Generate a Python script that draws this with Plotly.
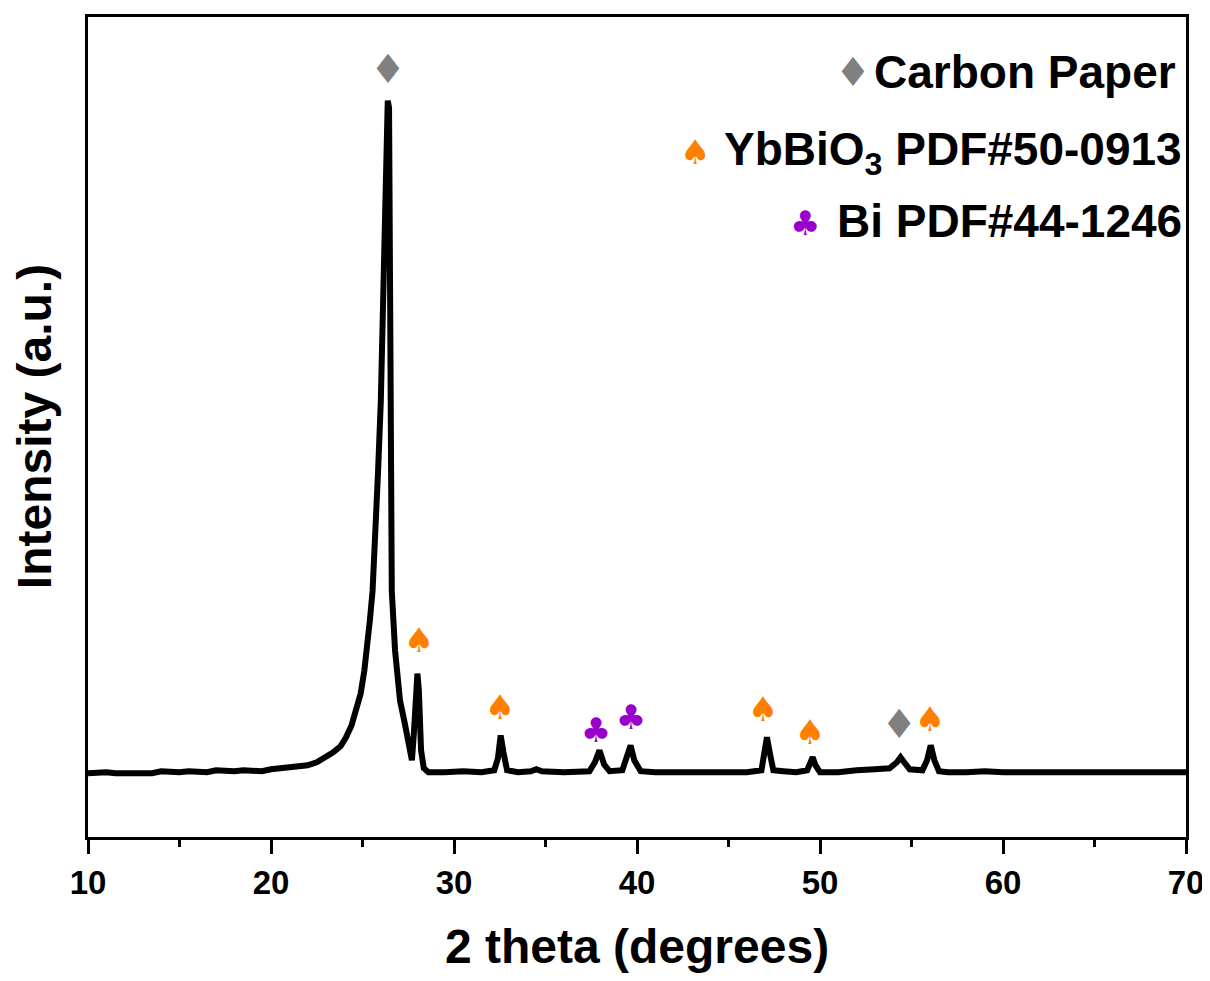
import plotly.graph_objects as go

# ---- XRD pattern (2theta, intensity a.u.) ----
two_theta = [10.0, 10.5, 11.0, 11.5, 12.0, 12.5, 13.0, 13.5, 14.0, 14.5, 15.0, 15.5, 16.0,
             16.5, 17.0, 17.5, 18.0, 18.5, 19.0, 19.5, 20.0, 20.5,
             21.0, 21.6, 22.0, 22.5, 23.0, 23.4, 23.8, 24.1, 24.4, 24.7, 24.9,
             25.1, 25.25, 25.4, 25.55, 25.7, 25.85, 26.0, 26.1, 26.2, 26.3, 26.38,
             26.45, 26.5, 26.55, 26.6, 26.78, 27.05, 27.3, 27.55, 27.7, 27.8, 27.92,
             28.0, 28.08, 28.2, 28.35, 28.6, 29.5, 30.5, 31.5, 32.2, 32.4, 32.55,
             32.7, 32.9, 33.5, 34.2, 34.5, 34.8, 36.0, 37.4, 37.7, 37.95, 38.2,
             38.5, 39.2, 39.45, 39.65, 39.85, 40.2, 41.0, 42.0, 43.0, 44.0, 45.0,
             46.0, 46.8, 46.95,
             47.1, 47.25, 47.45, 48.0, 48.7, 49.3, 49.5, 49.6, 49.75, 50.0, 51.0,
             51.7, 52.0, 53.0, 53.8, 54.2, 54.4, 54.6, 54.9, 55.6, 55.85, 56.05,
             56.25, 56.5, 57.0, 58.0, 59.0, 60.0, 61.0, 62.0, 63.5, 65.0, 66.5,
             68.0, 69.0, 70.0]
intensity = [64, 65, 65, 64, 64, 65, 65, 64, 66, 65, 65, 66, 66,
             65, 67, 66, 66, 67, 67, 66, 68, 69,
             70, 70, 72, 75, 80, 85, 91, 100, 112, 129, 144,
             167, 187, 217, 247, 297, 367, 437, 537, 637, 707, 739,
             732, 587, 387, 247, 187, 137, 115, 95, 77, 102, 147,
             164, 147, 87, 69, 65, 65, 66, 65, 67, 79, 102,
             85, 67, 65, 66, 68, 66, 65, 66, 75, 87, 73,
             66, 67, 79, 92, 77, 66, 65, 65, 66, 65, 65,
             65, 67, 82,
             100, 85, 67, 66, 65, 67, 77, 80, 72, 65, 65,
             67, 67, 68, 69, 75, 80, 75, 68, 67, 77, 92,
             77, 66, 65, 65, 66, 65, 65, 65, 66, 65, 65,
             65, 66, 65]

# ---- phase markers ----
carbon_x = [26.39, 54.32]
carbon_y = [767, 109]
ybbio3_x = [28.09, 32.51, 46.89, 49.45, 56.01]
ybbio3_y = [194, 127, 125, 102, 115]
bi_x = [37.76, 39.67]
bi_y = [104, 117]

legend_labels = ["Carbon Paper", "YbBiO<sub>3</sub> PDF#50-0913", "Bi PDF#44-1246"]
x_title = "2 theta (degrees)"
y_title = "Intensity (a.u.)"

GRAY = "#808080"
ORANGE = "#FF8000"
PURPLE = "#9900CC"
FONT = "Liberation Sans, Arial, sans-serif"
SYM_FONT = "DejaVu Sans"
DIA_SIZE = 40
SUIT_SIZE = 34

fig = go.Figure()
fig.add_trace(go.Scatter(x=two_theta, y=intensity, mode="lines",
                         line=dict(color="black", width=6), showlegend=False))
fig.add_trace(go.Scatter(x=carbon_x, y=carbon_y, mode="text", text=["♦"] * len(carbon_x),
                         textfont=dict(family=SYM_FONT, size=DIA_SIZE, color=GRAY), showlegend=False))
fig.add_trace(go.Scatter(x=ybbio3_x, y=ybbio3_y, mode="text", text=["♠"] * len(ybbio3_x),
                         textfont=dict(family=SYM_FONT, size=SUIT_SIZE, color=ORANGE), showlegend=False))
fig.add_trace(go.Scatter(x=bi_x, y=bi_y, mode="text", text=["♣"] * len(bi_x),
                         textfont=dict(family=SYM_FONT, size=SUIT_SIZE, color=PURPLE), showlegend=False))

# legend (manual)
leg_y = [0.933, 0.835, 0.751]
sym_y = [0.933, 0.835, 0.749]
leg_right = [0.9927, 0.9985, 0.9985]
sym_x = [0.6967, 0.5528, 0.653]
syms = ["♦", "♠", "♣"]
cols = [GRAY, ORANGE, PURPLE]
sizes = [DIA_SIZE, SUIT_SIZE, SUIT_SIZE]
for lab, yy, sy, xr, sx, s, c, sz in zip(legend_labels, leg_y, sym_y, leg_right, sym_x, syms, cols, sizes):
    fig.add_annotation(xref="paper", yref="paper", x=xr, y=yy, text=lab, showarrow=False,
                       xanchor="right", yanchor="middle",
                       font=dict(family=FONT, size=46, color="black", weight="bold"))
    fig.add_annotation(xref="paper", yref="paper", x=sx, y=sy, text=s, showarrow=False,
                       xanchor="center", yanchor="middle",
                       font=dict(family=SYM_FONT, size=sz, color=c))

# axis titles
fig.add_annotation(xref="paper", yref="paper", x=0.5, y=-0.1337, text=x_title, showarrow=False,
                   xanchor="center", yanchor="middle",
                   font=dict(family=FONT, size=48, color="black", weight="bold"))
fig.add_annotation(xref="paper", yref="paper", x=-0.049, y=0.5, text=y_title, showarrow=False,
                   xanchor="center", yanchor="middle", textangle=-90,
                   font=dict(family=FONT, size=48, color="black", weight="bold"))

# page body adds an 8px margin, so the figure is shrunk by that amount
fig.update_layout(
    width=1202, height=973,
    margin=dict(l=80, r=24, t=6, b=144),
    paper_bgcolor="white", plot_bgcolor="white",
    font=dict(family=FONT, color="black"),
)
fig.update_xaxes(
    range=[10, 70], tickvals=[10, 20, 30, 40, 50, 60, 70],
    ticks="outside", ticklen=14, tickwidth=3, tickcolor="black",
    minor=dict(tickvals=[15, 25, 35, 45, 55, 65], ticks="outside", ticklen=7, tickwidth=3, tickcolor="black"),
    showline=True, linewidth=3, linecolor="black", mirror=True,
    showgrid=False, zeroline=False,
    tickfont=dict(family=FONT, size=33, color="black", weight="bold"),
)
fig.update_yaxes(
    range=[0, 823], showticklabels=False, ticks="",
    showline=True, linewidth=3, linecolor="black", mirror=True,
    showgrid=False, zeroline=False,
)
fig.write_html("out.html")
